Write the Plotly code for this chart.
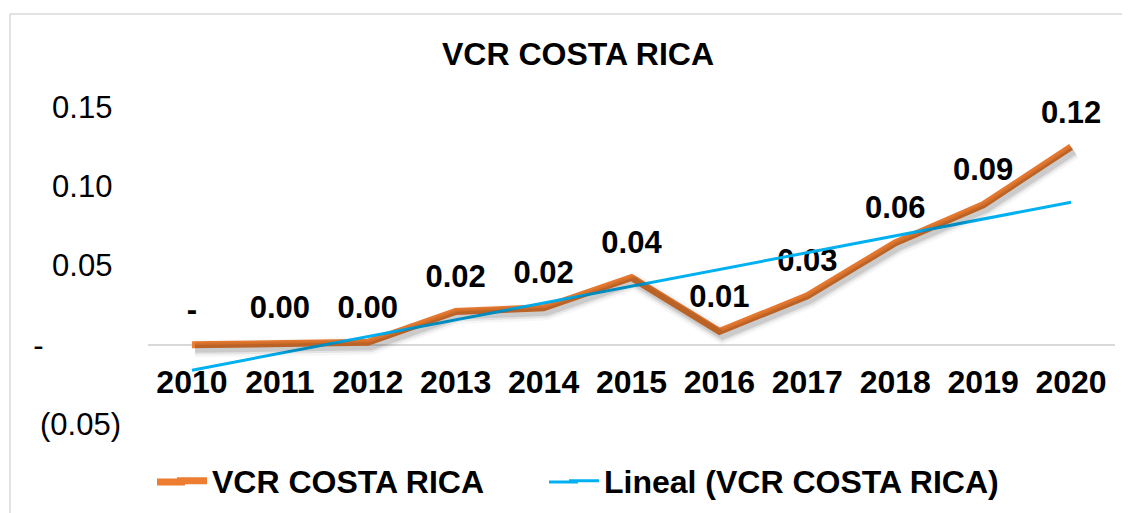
import numpy as np
import plotly.graph_objects as go

years = ["2010", "2011", "2012", "2013", "2014", "2015", "2016", "2017", "2018", "2019", "2020"]
vcr = [0.0, 0.0013, 0.0015, 0.021, 0.0233, 0.0424, 0.0084, 0.0309, 0.0643, 0.0883, 0.1248]
ytick_vals = [-0.05, 0.0, 0.05, 0.10, 0.15]
ytick_text = ["(0.05)", "-" + "\u00a0" * 9, "0.05\u00a0", "0.10\u00a0", "0.15\u00a0"]
series_name = "VCR COSTA RICA"
trend_name = "Lineal (VCR COSTA RICA)"
title_text = "VCR COSTA RICA"

labels = ["-" if v == 0 else f"{v:.2f}" for v in vcr]
idx = np.arange(len(vcr))
slope, intercept = np.polyfit(idx, vcr, 1)
trend = list(intercept + slope * idx)

FONT = "Liberation Sans, Arial, sans-serif"
ORANGE = "#ED7D31"
BLUE = "#00B0F0"

# page has an 8px body margin: figure is drawn 8px right/down
W, H = 1122, 505
L, R, T, B = 140, 15, 99, 89
PW = W - L - R
PH = H - T - B


def px2paper_x(px):
    return (px - 8 - L) / PW


def px2paper_y(py):
    return (H - B - (py - 8)) / PH


fig = go.Figure()

# soft shadow under the orange line (slightly offset axes)
for w, a in [(17, 0.035), (12, 0.07), (8, 0.11)]:
    fig.add_trace(go.Scatter(x=years, y=vcr, mode="lines", xaxis="x2", yaxis="y2",
                             line=dict(color=f"rgba(0,0,0,{a})", width=w),
                             showlegend=False, hoverinfo="skip"))

fig.add_trace(go.Scatter(x=years, y=vcr, mode="lines", name=series_name,
                         line=dict(color=ORANGE, width=7), legend="legend"))
fig.add_trace(go.Scatter(x=years, y=vcr, mode="markers+text", text=labels,
                         textposition="top center", cliponaxis=False,
                         textfont=dict(family=FONT, size=31, color="black", weight="bold"),
                         marker=dict(size=25, color="rgba(0,0,0,0)"),
                         showlegend=False, hoverinfo="skip"))
fig.add_trace(go.Scatter(x=years, y=trend, mode="lines", name=trend_name,
                         line=dict(color=BLUE, width=3), legend="legend2"))

xr = [-0.5, 10.5]
yr = [-0.05, 0.15]
px_x = (xr[1] - xr[0]) / PW
px_y = (yr[1] - yr[0]) / PH

legend_font = dict(family=FONT, size=32, color="black", weight="bold")
leg_y = px2paper_y(481)

fig.update_layout(
    width=W, height=H,
    margin=dict(l=L, r=R, t=T, b=B, autoexpand=False),
    paper_bgcolor="white", plot_bgcolor="white",
    font=dict(family=FONT, color="black"),
    title=dict(text=title_text, x=(578 - 8) / W, xref="container", xanchor="center",
               y=1 - (54 - 8) / H, yref="container", yanchor="middle",
               font=dict(family=FONT, size=32, color="black", weight="bold")),
    xaxis=dict(type="category", range=xr, anchor="free", position=0.25,
               showgrid=False, showline=False, zeroline=False, ticks="",
               ticklabelstandoff=15,
               tickfont=dict(family=FONT, size=32, color="black", weight="bold")),
    yaxis=dict(range=yr, tickvals=ytick_vals, ticktext=ytick_text,
               showgrid=False, zeroline=True, zerolinecolor="#d9d9d9", zerolinewidth=2,
               showline=False, ticks="", ticklabelstandoff=26,
               tickfont=dict(family=FONT, size=31, color="black")),
    xaxis2=dict(type="category", range=[xr[0] - 3 * px_x, xr[1] - 3 * px_x],
                overlaying="x", visible=False, anchor="y2"),
    yaxis2=dict(range=[yr[0] + 4 * px_y, yr[1] + 4 * px_y], overlaying="y",
                visible=False, anchor="x2"),
    legend=dict(orientation="h", x=px2paper_x(172), xanchor="left",
                y=leg_y, yanchor="middle",
                font=legend_font, bgcolor="rgba(0,0,0,0)"),
    legend2=dict(orientation="h", x=px2paper_x(564), xanchor="left",
                 y=leg_y, yanchor="middle",
                 font=legend_font, bgcolor="rgba(0,0,0,0)"),
    shapes=[
        dict(type="rect", xref="paper", yref="paper",
             x0=px2paper_x(10), x1=1.3, y0=-0.6, y1=px2paper_y(14),
             line=dict(color="#d9d9d9", width=1.5), layer="below"),
        # lengthen legend line samples (Excel-style long keys)
        dict(type="line", xref="paper", yref="paper",
             x0=px2paper_x(157), x1=px2paper_x(185), y0=px2paper_y(482), y1=px2paper_y(482),
             line=dict(color=ORANGE, width=7)),
        dict(type="line", xref="paper", yref="paper",
             x0=px2paper_x(549), x1=px2paper_x(578), y0=px2paper_y(482), y1=px2paper_y(482),
             line=dict(color=BLUE, width=3)),
    ],
    showlegend=True,
)

fig.write_html("out.html")
